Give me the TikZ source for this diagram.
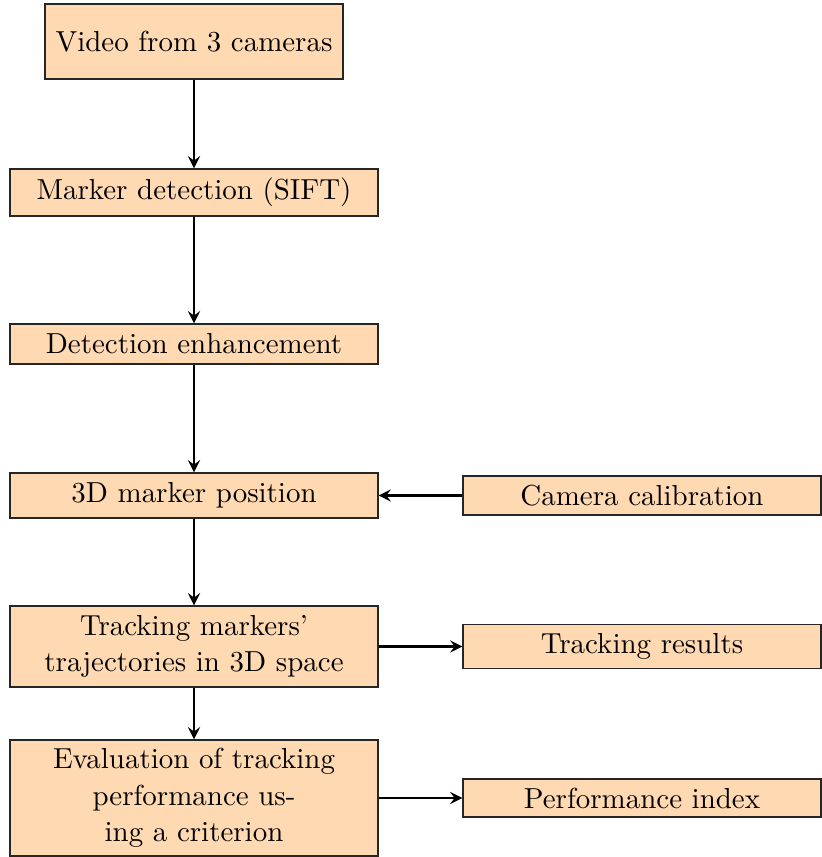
\documentclass[tikz,border=0pt]{standalone}
\usetikzlibrary{arrows}
\begin{document}
\begin{tikzpicture}[%
      box/.style={rectangle, draw=black!85, fill=orange!30, inner sep=0pt, align=center,
        minimum width=122.67pt, font=\fontsize{9.65pt}{12.2pt}\selectfont},
      side/.style={box, minimum width=119.33pt},
      flow/.style={->, >=stealth, thick}]
      \useasboundingbox (0,0) rectangle (273.67pt,-285.67pt);
      % left column
      \node[box, minimum width=99.3pt, minimum height=25pt] (video) at (64.67pt,-13.83pt) {Video from 3 cameras};
      \node[box, minimum height=15.67pt] (sift) at (64.67pt,-64.17pt) {Marker detection (SIFT)};
      \node[box, minimum height=13.33pt] (enhance) at (64.67pt,-114.67pt) {Detection enhancement};
      \node[box, minimum height=15pt] (pos3d) at (64.67pt,-165.17pt) {3D marker position};
      \node[box, minimum height=27pt] (track) at (64.67pt,-215.5pt) {Tracking markers’\\ trajectories in 3D space};
      \node[box, minimum height=38.67pt] (eval) at (64.67pt,-266pt) {Evaluation of tracking\\ performance us-\\ ing a criterion};
      % right column
      \node[side, minimum height=13pt] (calib) at (214pt,-165.17pt) {Camera calibration};
      \node[side, minimum height=14.67pt] (results) at (214pt,-215.5pt) {Tracking results};
      \node[side, minimum height=12.67pt] (perf) at (214pt,-266pt) {Performance index};
      % arrows
      \draw[flow] (video) -- (sift);
      \draw[flow] (sift) -- (enhance);
      \draw[flow] (enhance) -- (pos3d);
      \draw[flow] (pos3d) -- (track);
      \draw[flow] (track) -- (eval);
      \draw[flow] (calib) -- (pos3d);
      \draw[flow] (track) -- (results);
      \draw[flow] (eval) -- (perf);
    \end{tikzpicture}
\end{document}
